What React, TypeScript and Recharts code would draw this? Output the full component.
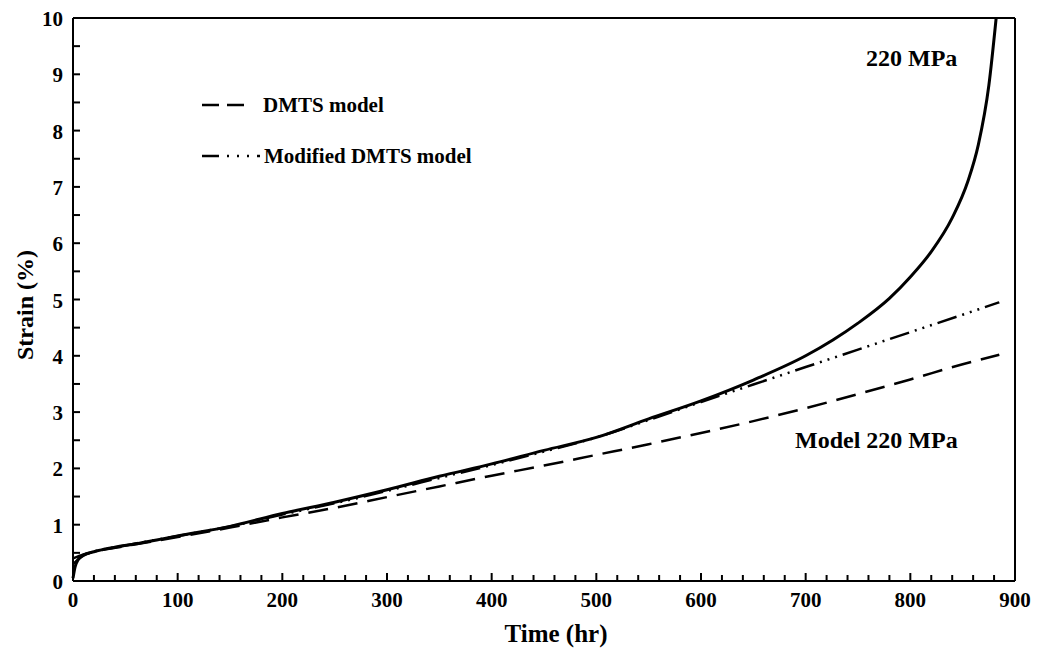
import * as React from "react"
import {
  LineChart,
  Line,
  XAxis,
  YAxis,
  ReferenceLine,
} from "recharts"

// measured creep curve, 220 MPa
const expTime = [0, 2, 5, 10, 20, 40, 60, 80, 100, 150, 200, 250, 300, 350, 400, 450, 500, 550, 600, 650, 700, 726, 750, 780, 800, 820, 840, 855, 865, 875, 882]
const expStrain = [0.05, 0.25, 0.38, 0.46, 0.52, 0.6, 0.66, 0.73, 0.8, 0.97, 1.2, 1.4, 1.62, 1.86, 2.08, 2.32, 2.55, 2.88, 3.2, 3.57, 4.0, 4.28, 4.58, 5.02, 5.4, 5.85, 6.45, 7.1, 7.75, 8.8, 10]

// DMTS model
const dmtsTime = [0, 10, 20, 50, 100, 150, 200, 250, 300, 350, 400, 450, 500, 550, 600, 650, 700, 750, 800, 850, 885]
const dmtsStrain = [0.4, 0.47, 0.52, 0.62, 0.78, 0.95, 1.13, 1.3, 1.49, 1.68, 1.87, 2.05, 2.24, 2.43, 2.63, 2.84, 3.07, 3.32, 3.58, 3.85, 4.02]

// modified DMTS model
const modTime = [0, 10, 20, 50, 100, 150, 200, 250, 300, 350, 400, 450, 500, 550, 600, 650, 700, 750, 800, 850, 885]
const modStrain = [0.3, 0.45, 0.52, 0.63, 0.8, 0.97, 1.18, 1.38, 1.6, 1.83, 2.06, 2.3, 2.55, 2.86, 3.18, 3.49, 3.8, 4.11, 4.42, 4.73, 4.95]

const xTicks = Array.from({ length: 46 }, (_, i) => i * 20)
const yTicks = Array.from({ length: 21 }, (_, i) => i * 0.5)

const expData = expTime.map((t, i) => ({ t, v: expStrain[i] }))
const dmtsData = dmtsTime.map((t, i) => ({ t, v: dmtsStrain[i] }))
const modData = modTime.map((t, i) => ({ t, v: modStrain[i] }))

const font = '"Liberation Serif", "Times New Roman", serif'

const XTick = (props: any) => {
  const { x, y, payload } = props
  const major = payload.value % 100 === 0
  return (
    <g>
      <line x1={x} x2={x} y1={y} y2={y - (major ? 8 : 6)} stroke="#000" strokeWidth={2} />
      {major && (
        <text x={x} y={y + 26} textAnchor="middle" fontFamily={font} fontWeight="bold" fontSize={21} fill="#000">
          {payload.value}
        </text>
      )}
    </g>
  )
}

const YTick = (props: any) => {
  const { x, y, payload } = props
  const major = payload.value % 1 === 0
  return (
    <g>
      <line x1={x} x2={x + 7} y1={y} y2={y} stroke="#000" strokeWidth={2} />
      {major && (
        <text x={x - 10} y={y + 8} textAnchor="end" fontFamily={font} fontWeight="bold" fontSize={21} fill="#000">
          {payload.value}
        </text>
      )}
    </g>
  )
}

const modDash = "20 6 2 6 2 6 2 6"

export default function App() {
  return (
    <div style={{ position: "absolute", left: 0, top: 0, width: 1037, height: 649, background: "#fff" }}>
      <LineChart width={1037} height={649} margin={{ top: 18, right: 22, left: 13, bottom: 0 }}>
        <XAxis
          type="number"
          dataKey="t"
          domain={[0, 900]}
          ticks={xTicks}
          interval={0}
          height={68}
          tickSize={0}
          tickMargin={0}
          tickLine={false}
          axisLine={{ stroke: "#000", strokeWidth: 2 }}
          tick={<XTick />}
          allowDuplicatedCategory={false}
        />
        <YAxis
          type="number"
          dataKey="v"
          domain={[0, 10]}
          ticks={yTicks}
          interval={0}
          width={60}
          tickSize={0}
          tickMargin={0}
          tickLine={false}
          axisLine={{ stroke: "#000", strokeWidth: 2 }}
          tick={<YTick />}
        />
        <ReferenceLine y={10} stroke="#000" strokeWidth={2} />
        <ReferenceLine x={900} stroke="#000" strokeWidth={2} />
        <Line data={dmtsData} dataKey="v" type="monotone" stroke="#000" strokeWidth={2.5} strokeDasharray="20 10" dot={false} isAnimationActive={false} />
        <Line data={modData} dataKey="v" type="monotone" stroke="#000" strokeWidth={2.5} strokeDasharray={modDash} dot={false} isAnimationActive={false} />
        <Line data={expData} dataKey="v" type="monotone" stroke="#000" strokeWidth={3} dot={false} isAnimationActive={false} />
      </LineChart>
      <svg width={1037} height={649} style={{ position: "absolute", left: 0, top: 0, pointerEvents: "none" }}>
        <g fontFamily={font} fontWeight="bold" fill="#000">
          <text x={25} y={305} fontSize={24} textAnchor="middle" dominantBaseline="central" transform="rotate(-90, 25, 305)">
            Strain (%)
          </text>
          <text x={556} y={642} fontSize={25} textAnchor="middle">Time (hr)</text>
          <text x={866} y={66} fontSize={24}>220 MPa</text>
          <text x={795} y={448} fontSize={24}>Model 220 MPa</text>
          <line x1={202} x2={252} y1={105} y2={105} stroke="#000" strokeWidth={2.5} strokeDasharray="17 8" />
          <text x={263} y={112} fontSize={21}>DMTS model</text>
          <line x1={202} x2={260} y1={156} y2={156} stroke="#000" strokeWidth={2.5} strokeDasharray="17 8 2 8 2 8 2 8" />
          <text x={264} y={163} fontSize={21}>Modified DMTS model</text>
        </g>
      </svg>
    </div>
  )
}
